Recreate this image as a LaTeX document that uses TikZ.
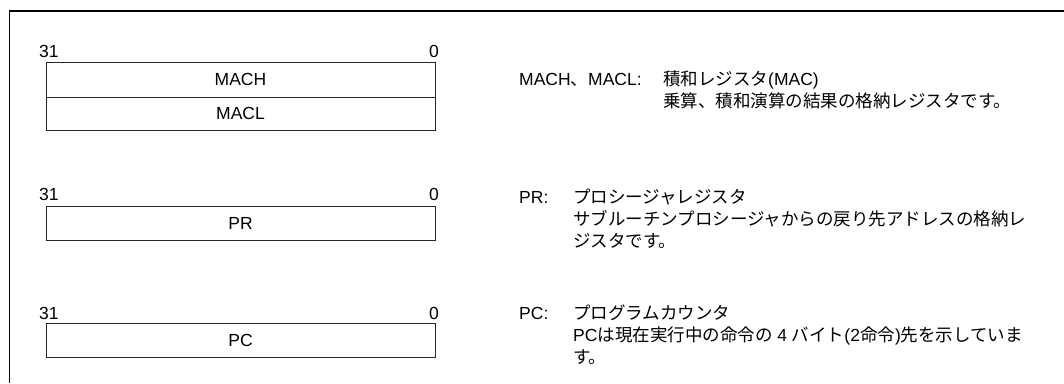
\documentclass[tikz,border=0pt]{standalone}
\usepackage{fontspec}
\setmainfont{Liberation Sans}
\newfontfamily\jpfont{Noto Sans CJK JP}
\newcommand{\jp}[1]{{\jpfont #1}}
\begin{document}
\begin{tikzpicture}[x=1pt,y=-1pt,
  frame/.style={line width=1.1pt, black},
  regbox/.style={draw=black!85, line width=0.9pt, minimum width=389pt, inner sep=0pt,
    font=\fontsize{17.5}{22}\selectfont},
  txt/.style={inner sep=0pt, font=\fontsize{17.5}{22}\selectfont},
  desc/.style={txt, anchor=base west, align=left},
]
\useasboundingbox (0,0) rectangle (1064,383);
% outer frame
\draw[frame] (9.5,383) -- (9.5,11) -- (1064,11);

% MACH / MACL
\node[txt, anchor=base west] (m31) at (39,57) {31};
\node[txt, anchor=base east] (m0) at (439,57) {0};
\node[regbox, minimum height=35pt] (mach) at (240.5,79.5) {MACH};
\node[regbox, minimum height=33pt] (macl) at (240.5,113.5) {MACL};

% PR
\node[txt, anchor=base west] (p31) at (39,200) {31};
\node[txt, anchor=base east] (p0) at (439,200) {0};
\node[regbox, minimum height=34pt] (pr) at (240.5,223) {PR};

% PC
\node[txt, anchor=base west] (c31) at (39,319) {31};
\node[txt, anchor=base east] (c0) at (439,319) {0};
\node[regbox, minimum height=34pt] (pc) at (240.5,340) {PC};

% descriptions (base anchor = baseline of last line)
\node[txt, anchor=base west] (lmac) at (519,85) {MACH\jp{、}MACL:};
\node[desc] (dmac) at (663,107) {\jp{積和レジスタ}(MAC)\\\jp{乗算、積和演算の結果の格納レジスタです。}};

\node[txt, anchor=base west] (lpr) at (519,203) {PR:};
\node[desc] (dpr) at (573,247) {\jp{プロシージャレジスタ}\\\jp{サブルーチンプロシージャからの戻り先アドレスの格納レ}\\\jp{ジスタです。}};

\node[txt, anchor=base west] (lpc) at (519,319) {PC:};
\node[desc] (dpc) at (573,363) {\jp{プログラムカウンタ}\\PC\jp{は現在実行中の命令の} 4 \jp{バイト}(2\jp{命令})\jp{先を示していま}\\\jp{す。}};
\end{tikzpicture}
\end{document}
